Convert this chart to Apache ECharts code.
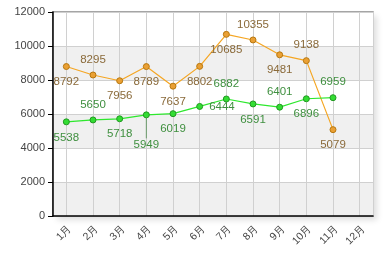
<!DOCTYPE html>
<html><head><meta charset="utf-8">
<script src="https://cdn.jsdelivr.net/npm/echarts@6/dist/echarts.min.js"></script>
<style>html,body{margin:0;padding:0;background:#fff}#c{width:388px;height:280px}</style>
</head><body><div id="c"></div>
<script>
const categories = ['1月','2月','3月','4月','5月','6月','7月','8月','9月','10月','11月','12月'];
const orangeValues = [8792, 8295, 7956, 8789, 7637, 8802, 10685, 10355, 9481, 9138, 5079];
const greenValues = [5538, 5650, 5718, 5949, 6019, 6444, 6882, 6591, 6401, 6896, 6959];
const yTicks = [0, 2000, 4000, 6000, 8000, 10000, 12000];

const orangeLabelPos = ['bottom','top','bottom','bottom','bottom','bottom','bottom','top','bottom','top','bottom'];
const greenLabelPos = ['bottom','top','bottom','bottom','bottom','right','top','bottom','top','bottom','top'];
const greenLeaderIndex = 3;

function mk(vals, pos, leader) {
  return vals.map((v, i) => {
    const d = {value: v, label: {position: pos[i]}};
    d.labelLine = {show: i === leader};
    return d;
  });
}
// helper axis: two slots per month so split lines fall on month centres
const halfSlots = categories.flatMap(c => [c + 'a', c + 'b']);

const G = {left: 53, top: 12, right: 15, bottom: 64};
const chart = echarts.init(document.getElementById('c'), null, {renderer: 'canvas'});
chart.setOption({
  animation: false,
  graphic: [{type: 'rect', z: -10, left: G.left, top: G.top,
    shape: {width: 388 - G.left - G.right, height: 280 - G.top - G.bottom},
    style: {fill: '#fff', shadowColor: 'rgba(0,0,0,0.13)', shadowBlur: 6, shadowOffsetX: 4, shadowOffsetY: 4}}],
  grid: {left: G.left, top: G.top, right: G.right, bottom: G.bottom, show: true, borderColor: '#888', borderWidth: 1.5},
  xAxis: [{
    type: 'category', data: categories, boundaryGap: true,
    axisLine: {lineStyle: {color: '#000', width: 1.5}},
    axisTick: {alignWithLabel: true, length: 4, lineStyle: {color: '#000'}},
    axisLabel: {rotate: 45, color: '#444', fontSize: 10.5, fontFamily: 'Liberation Sans', margin: 7, verticalAlign: 'top'},
    splitLine: {show: false}
  }, {
    type: 'category', data: halfSlots, boundaryGap: true, position: 'bottom',
    axisLine: {show: false}, axisTick: {show: false}, axisLabel: {show: false},
    splitLine: {show: true, interval: function (i) { return i % 2 === 1; }, lineStyle: {color: '#d0d0d0'}}
  }],
  yAxis: {
    type: 'value', min: yTicks[0], max: yTicks[yTicks.length-1], interval: 2000,
    axisLine: {show: true, lineStyle: {color: '#000', width: 1.5}},
    axisTick: {show: true, length: 5, lineStyle: {color: '#000'}},
    axisLabel: {color: '#444', fontSize: 11, fontFamily: 'Liberation Sans', margin: 8, formatter: v => String(v)},
    splitLine: {lineStyle: {color: '#d0d0d0'}},
    splitArea: {show: true, areaStyle: {color: ['#f0f0f0', '#ffffff']}}
  },
  series: [
    {
      type: 'line', data: mk(orangeValues, orangeLabelPos, -1),
      symbol: 'circle', symbolSize: 6,
      lineStyle: {color: '#f5a623', width: 1.2},
      itemStyle: {color: '#eaa034', borderColor: '#b8780f', borderWidth: 1},
      label: {show: true, color: '#8a6a3a', fontSize: 11.5, fontFamily: 'Liberation Sans', distance: 6}
    },
    {
      type: 'line', data: mk(greenValues, greenLabelPos, greenLeaderIndex),
      symbol: 'circle', symbolSize: 6,
      lineStyle: {color: '#2ee82e', width: 1.2},
      itemStyle: {color: '#33dd33', borderColor: '#229922', borderWidth: 1},
      label: {show: true, color: '#3f8f3f', fontSize: 11.5, fontFamily: 'Liberation Sans', distance: 6},
      labelLine: {lineStyle: {color: '#6a9a6a', width: 1}},
      labelLayout: function (p) { if (p.dataIndex === greenLeaderIndex) return {dy: 14}; }
    }
  ]
});
</script></body></html>
